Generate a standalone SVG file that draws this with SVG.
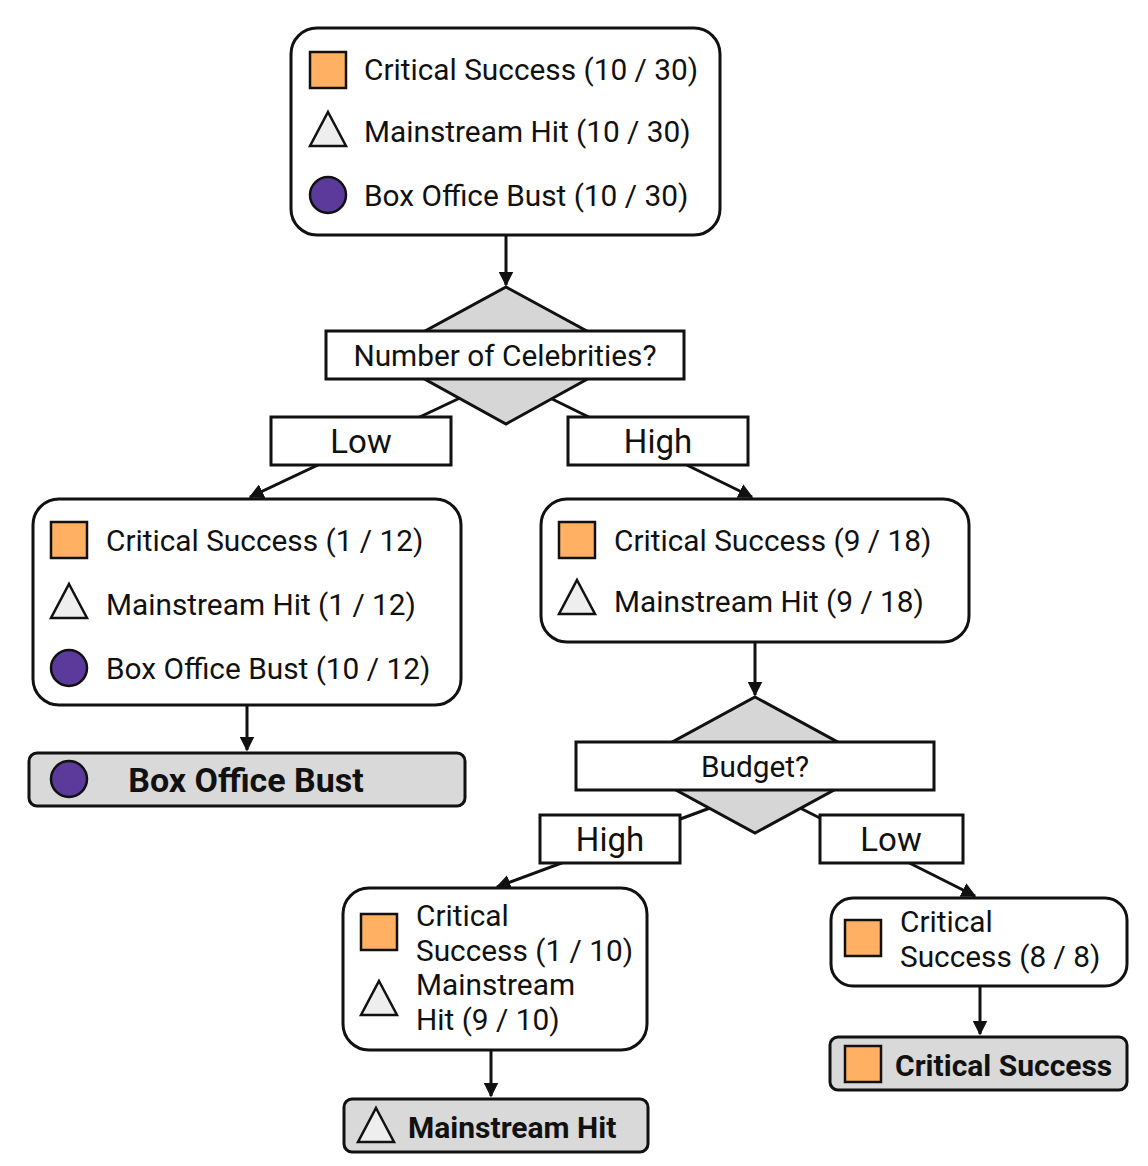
<svg xmlns="http://www.w3.org/2000/svg" width="1148" height="1166" viewBox="0 0 1148 1166">
<style>
text{font-family:Roboto,"Liberation Sans",sans-serif;fill:#111}
.t{font-size:29.8px}
.lb{font-size:33px}
.b{font-weight:bold;font-size:34px}
.node{fill:#fff;stroke:#111;stroke-width:3}
.leaf{fill:#d9d9d9;stroke:#111;stroke-width:3}
.sq{fill:#ffb062;stroke:#111;stroke-width:2.5}
.tri{fill:#eee;stroke:#111;stroke-width:2.5}
.ci{fill:#5b3a9c;stroke:#111;stroke-width:2.5}
.dia{fill:#d6d6d6;stroke:#111;stroke-width:3}
.box{fill:#fff;stroke:#111;stroke-width:3}
.c{stroke:#111;stroke-width:3;fill:none;marker-end:url(#a)}
</style>
<defs><marker id="a" viewBox="0 0 10 10" refX="9" refY="5" markerWidth="5" markerHeight="5" orient="auto"><path d="M0,0L10,5L0,10z" fill="#111"/></marker></defs>
<g id="connectors">
<path class="c" d="M506,235V285"/>
<path class="c" d="M460,398L250,497"/>
<path class="c" d="M550,398L752,497"/>
<path class="c" d="M247,705V750"/>
<path class="c" d="M755,642V695"/>
<path class="c" d="M710,808L497,887"/>
<path class="c" d="M800,808L975,896"/>
<path class="c" d="M491,1050V1096"/>
<path class="c" d="M980,986V1034"/>
</g>
<g id="root">
<rect class="node" x="291" y="28" width="429" height="207" rx="26"/>
<rect class="sq" x="310" y="52" width="36" height="36"/><text class="t" x="364" y="80">Critical Success (10 / 30)</text>
<path class="tri" d="M328,112L346,146H310z"/><text class="t" x="364" y="142">Mainstream Hit (10 / 30)</text>
<circle class="ci" cx="328" cy="195" r="18"/><text class="t" x="364" y="206">Box Office Bust (10 / 30)</text>
</g>
<g id="split1">
<path class="dia" d="M506,287L631,355L506,424L381,355z"/>
<rect class="box" x="326" y="331" width="358" height="48"/>
<text class="t" x="505" y="366" text-anchor="middle">Number of Celebrities?</text>
</g>
<g id="lbl-low1"><rect class="box" x="271" y="417" width="180" height="48"/><text class="lb" x="361" y="453" text-anchor="middle">Low</text></g>
<g id="lbl-high1"><rect class="box" x="568" y="417" width="180" height="48"/><text class="lb" x="658" y="453" text-anchor="middle">High</text></g>
<g id="left">
<rect class="node" x="33" y="499" width="428" height="206" rx="26"/>
<rect class="sq" x="51" y="522" width="36" height="36"/><text class="t" x="106" y="551">Critical Success (1 / 12)</text>
<path class="tri" d="M69,584L87,618H51z"/><text class="t" x="106" y="615">Mainstream Hit (1 / 12)</text>
<circle class="ci" cx="69" cy="668" r="18"/><text class="t" x="106" y="679">Box Office Bust (10 / 12)</text>
</g>
<g id="leaf-bust">
<rect class="leaf" x="29" y="753" width="436" height="53" rx="8"/>
<circle class="ci" cx="69" cy="779" r="18"/><text class="b" x="246" y="792" text-anchor="middle">Box Office Bust</text>
</g>
<g id="right">
<rect class="node" x="541" y="499" width="428" height="143" rx="26"/>
<rect class="sq" x="559" y="522" width="36" height="36"/><text class="t" x="614" y="551">Critical Success (9 / 18)</text>
<path class="tri" d="M577,580L595,614H559z"/><text class="t" x="614" y="612">Mainstream Hit (9 / 18)</text>
</g>
<g id="split2">
<path class="dia" d="M755,697L880,765L755,833L630,765z"/>
<rect class="box" x="576" y="742" width="358" height="48"/>
<text class="t" x="755" y="777" text-anchor="middle">Budget?</text>
</g>
<g id="lbl-high2"><rect class="box" x="540" y="815" width="140" height="48"/><text class="lb" x="610" y="851" text-anchor="middle">High</text></g>
<g id="lbl-low2"><rect class="box" x="820" y="815" width="143" height="48"/><text class="lb" x="891" y="851" text-anchor="middle">Low</text></g>
<g id="bl">
<rect class="node" x="343" y="888" width="304" height="162" rx="26"/>
<rect class="sq" x="361" y="914" width="36" height="36"/>
<text class="t" x="416" y="926">Critical</text><text class="t" x="416" y="961">Success (1 / 10)</text>
<path class="tri" d="M379,981L397,1015H361z"/>
<text class="t" x="416" y="995">Mainstream</text><text class="t" x="416" y="1030">Hit (9 / 10)</text>
</g>
<g id="leaf-hit">
<rect class="leaf" x="344" y="1099" width="304" height="53" rx="8"/>
<path class="tri" d="M376,1108L394,1142H358z"/><text class="b" x="408" y="1138" style="font-size:30px">Mainstream Hit</text>
</g>
<g id="br">
<rect class="node" x="831" y="898" width="296" height="88" rx="22"/>
<rect class="sq" x="845" y="920" width="36" height="36"/>
<text class="t" x="900" y="932">Critical</text><text class="t" x="900" y="967">Success (8 / 8)</text>
</g>
<g id="leaf-cs">
<rect class="leaf" x="830" y="1037" width="297" height="53" rx="8"/>
<rect class="sq" x="845" y="1046" width="36" height="36"/><text class="b" x="895" y="1076" style="font-size:30px">Critical Success</text>
</g>
</svg>
